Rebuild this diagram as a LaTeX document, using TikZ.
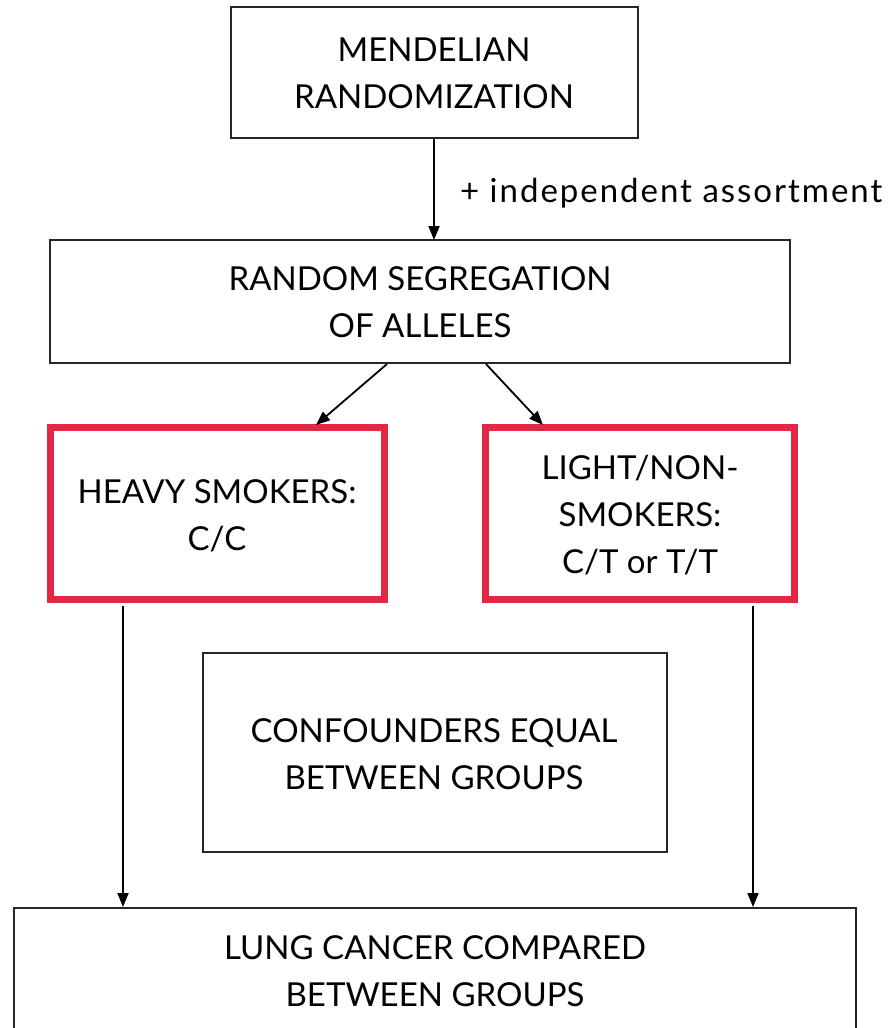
\documentclass[tikz,border=0pt]{standalone}
\usepackage{fontspec}
\setmainfont{Lato}
\usetikzlibrary{arrows.meta}
\definecolor{boxred}{HTML}{E32845}
\begin{document}
\begin{tikzpicture}[x=1pt,y=-1pt,
  every node/.style={font=\fontsize{33}{47}\selectfont, align=center, inner sep=0pt},
  plainbox/.style={draw=black!85, line width=1.5pt},
  redbox/.style={draw=boxred, line width=7pt},
  conn/.style={line width=1.8pt, -{Triangle[length=14pt,width=11pt]}}]
\useasboundingbox (0,0) rectangle (892,1028);
% boxes
\draw[plainbox] (231,7) rectangle (638,138);
\draw[plainbox] (50,240) rectangle (790,363);
\draw[redbox] (50.5,427.5) rectangle (384.5,599.5);
\draw[redbox] (485.5,427.5) rectangle (794.5,599.5);
\draw[plainbox] (203,653) rectangle (667,852);
\draw[plainbox] (14,908) rectangle (856,1040);
% labels
\node (mr) at (434,73) {MENDELIAN\\RANDOMIZATION};
\node (rs) at (420,302) {RANDOM SEGREGATION\\OF ALLELES};
\node (hs) at (217,516) {HEAVY SMOKERS:\\C/C};
\node (ls) at (640,515) {LIGHT/NON-\\SMOKERS:\\C/T or T/T};
\node (cf) at (434,754) {CONFOUNDERS EQUAL\\BETWEEN GROUPS};
\node (lc) at (435,971) {LUNG CANCER COMPARED\\BETWEEN GROUPS};
\node[anchor=west, font=\fontsize{33}{47}\selectfont\addfontfeature{LetterSpace=6}] (ia) at (460,193) {+ independent assortment};
% connectors
\coordinate (a1) at (434,139);
\coordinate (a2) at (434,240);
\coordinate (b1) at (387,364);
\coordinate (b2) at (316,425);
\coordinate (c1) at (486,364);
\coordinate (c2) at (543,425);
\coordinate (d1) at (123,606);
\coordinate (d2) at (123,907);
\coordinate (e1) at (753,606);
\coordinate (e2) at (753,907);
\draw[conn] (a1) -- (a2);
\draw[conn] (b1) -- (b2);
\draw[conn] (c1) -- (c2);
\draw[conn] (d1) -- (d2);
\draw[conn] (e1) -- (e2);
\end{tikzpicture}
\end{document}
